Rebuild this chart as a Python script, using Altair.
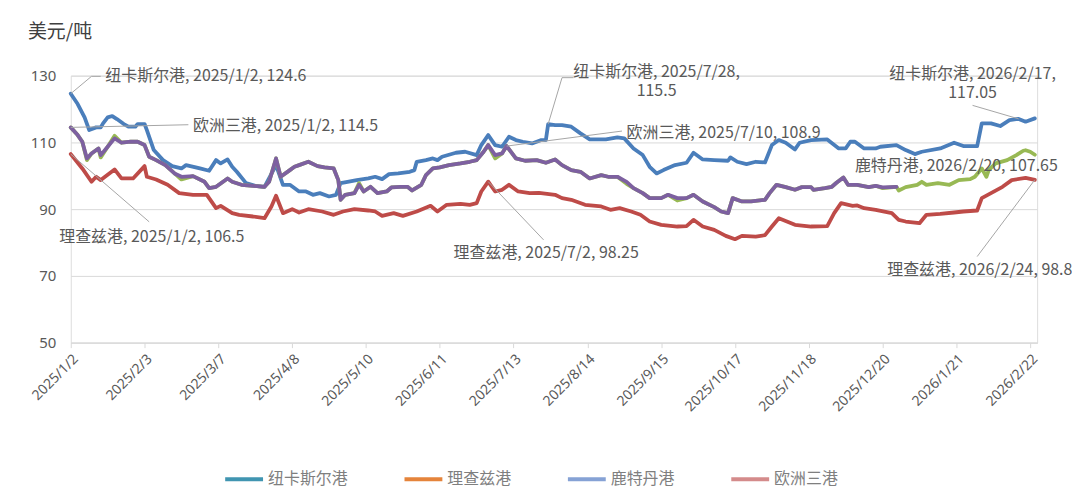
import altair as alt
import pandas as pd

# ---------------- data ----------------
SERIES_NAMES = ["纽卡斯尔港", "理查兹港", "鹿特丹港", "欧洲三港"]
LINE_COLORS = ["#4a7ebb", "#be4b48", "#98b954", "#7d60a0"]
LEGEND_COLORS = ["#4095b1", "#e5843b", "#86a2d5", "#d48b8b"]

NEWCASTLE_DATES = [
    "2025-01-02", "2025-01-05", "2025-01-08", "2025-01-10", "2025-01-13", "2025-01-15", "2025-01-16",
    "2025-01-18", "2025-01-20", "2025-01-22", "2025-01-25", "2025-01-27", "2025-01-30", "2025-01-31",
    "2025-02-03", "2025-02-04", "2025-02-07", "2025-02-11", "2025-02-15", "2025-02-19", "2025-02-21",
    "2025-02-27", "2025-03-03", "2025-03-06", "2025-03-08", "2025-03-11", "2025-03-13", "2025-03-15",
    "2025-03-19", "2025-03-23", "2025-03-27", "2025-04-01", "2025-04-04", "2025-04-07", "2025-04-11",
    "2025-04-14", "2025-04-17", "2025-04-20", "2025-04-24", "2025-04-27", "2025-04-29", "2025-05-02",
    "2025-05-06", "2025-05-11", "2025-05-14", "2025-05-17", "2025-05-20", "2025-05-24", "2025-05-29",
    "2025-05-31", "2025-06-01", "2025-06-05", "2025-06-08", "2025-06-10", "2025-06-12", "2025-06-18",
    "2025-06-22", "2025-06-27", "2025-06-29", "2025-07-02", "2025-07-05", "2025-07-08", "2025-07-11",
    "2025-07-14", "2025-07-17", "2025-07-21", "2025-07-25", "2025-07-27", "2025-07-28", "2025-07-31",
    "2025-08-03", "2025-08-07", "2025-08-11", "2025-08-15", "2025-08-22", "2025-08-27", "2025-08-30",
    "2025-09-03", "2025-09-07", "2025-09-10", "2025-09-13", "2025-09-16", "2025-09-21", "2025-09-26",
    "2025-09-29", "2025-10-03", "2025-10-08", "2025-10-14", "2025-10-15", "2025-10-18", "2025-10-22",
    "2025-10-26", "2025-10-30", "2025-11-02", "2025-11-05", "2025-11-08", "2025-11-12", "2025-11-14",
    "2025-11-19", "2025-11-26", "2025-12-01", "2025-12-04", "2025-12-06", "2025-12-08", "2025-12-12",
    "2025-12-17", "2025-12-19", "2025-12-26", "2025-12-30", "2026-01-03", "2026-01-06", "2026-01-14",
    "2026-01-20", "2026-01-24", "2026-01-30", "2026-02-01", "2026-02-05", "2026-02-09", "2026-02-13",
    "2026-02-17", "2026-02-20", "2026-02-24",
]
NEWCASTLE_VALUES = [
    124.6, 121.5, 117.5, 113.7, 114.5, 114.5, 115.7,
    117.5, 117.9, 117.0, 115.5, 114.7, 114.7, 115.5,
    115.5, 113.7, 107.7, 104.7, 102.9, 102.2, 103.2,
    102.2, 101.5, 104.7, 103.7, 104.9, 102.7, 101.2,
    97.8, 97.0, 96.7, 103.2, 97.3, 97.3, 95.3,
    95.3, 94.3, 94.8, 93.8, 94.3, 97.8, 98.2,
    98.7, 99.2, 99.7, 99.0, 100.5, 100.7, 101.2,
    101.7, 104.2, 104.7, 105.2, 104.7, 105.7, 106.9,
    107.2, 106.2, 109.2, 112.2, 109.2, 108.7, 111.7,
    110.7, 110.2, 109.7, 110.7, 110.7, 115.5, 115.2,
    115.2, 114.7, 112.7, 110.9, 110.9, 111.5, 111.2,
    108.2, 106.2, 102.7, 100.7, 101.7, 103.2, 103.9,
    106.9, 104.9, 104.7, 104.5, 105.5, 104.2, 103.5,
    104.2, 104.0, 109.2, 110.7, 109.9, 107.9, 109.9,
    110.7, 110.9, 108.2, 108.2, 110.2, 110.2, 108.2,
    108.2, 108.7, 109.2, 107.7, 106.5, 107.2, 108.2,
    109.9, 108.9, 108.9, 115.7, 115.7, 114.9, 116.7,
    117.05, 116.2, 117.2,
]

RICHARDS_DATES = [
    "2025-01-02", "2025-01-07", "2025-01-11", "2025-01-13", "2025-01-15", "2025-01-21", "2025-01-24",
    "2025-01-29", "2025-02-03", "2025-02-04", "2025-02-08", "2025-02-13", "2025-02-18", "2025-02-24",
    "2025-03-02", "2025-03-06", "2025-03-08", "2025-03-13", "2025-03-16", "2025-03-22", "2025-03-27",
    "2025-03-30", "2025-04-01", "2025-04-04", "2025-04-08", "2025-04-11", "2025-04-15", "2025-04-21",
    "2025-04-26", "2025-04-30", "2025-05-05", "2025-05-11", "2025-05-14", "2025-05-17", "2025-05-22",
    "2025-05-26", "2025-06-01", "2025-06-07", "2025-06-10", "2025-06-14", "2025-06-20", "2025-06-24",
    "2025-06-27", "2025-06-29", "2025-07-02", "2025-07-05", "2025-07-08", "2025-07-11", "2025-07-15",
    "2025-07-20", "2025-07-24", "2025-07-31", "2025-08-03", "2025-08-07", "2025-08-13", "2025-08-20",
    "2025-08-24", "2025-08-28", "2025-09-02", "2025-09-06", "2025-09-10", "2025-09-15", "2025-09-22",
    "2025-09-26", "2025-09-29", "2025-10-03", "2025-10-08", "2025-10-13", "2025-10-17", "2025-10-20",
    "2025-10-26", "2025-10-30", "2025-11-02", "2025-11-05", "2025-11-12", "2025-11-19", "2025-11-26",
    "2025-11-29", "2025-12-02", "2025-12-07", "2025-12-09", "2025-12-12", "2025-12-17", "2025-12-24",
    "2025-12-27", "2025-12-30", "2026-01-05", "2026-01-08", "2026-01-14", "2026-01-20", "2026-01-24",
    "2026-01-30", "2026-02-01", "2026-02-05", "2026-02-10", "2026-02-14", "2026-02-20", "2026-02-24",
]
RICHARDS_VALUES = [
    106.5, 102.2, 98.2, 99.7, 98.7, 101.9, 99.2,
    99.2, 102.9, 99.7, 98.9, 97.3, 94.8, 94.3,
    94.3, 90.3, 91.0, 88.8, 88.3, 87.8, 87.3,
    90.8, 94.0, 88.8, 90.0, 89.0, 90.0, 89.3,
    88.3, 89.3, 90.0, 89.6, 89.3, 88.0, 88.8,
    88.0, 89.3, 91.0, 89.3, 91.3, 91.6, 91.3,
    91.8, 95.3, 98.25, 95.3, 95.8, 97.3, 95.3,
    94.8, 94.9, 94.3, 93.3, 92.8, 91.3, 90.8,
    89.8, 90.3, 89.3, 88.3, 86.3, 85.3, 84.8,
    84.9, 86.8, 84.8, 83.8, 82.0, 81.0, 82.0,
    81.8, 82.2, 84.8, 87.3, 85.3, 84.8, 84.9,
    88.8, 91.8, 91.0, 91.1, 90.3, 89.8, 88.8,
    86.8, 86.3, 85.8, 88.3, 88.6, 89.0, 89.3,
    89.6, 93.3, 94.8, 96.7, 98.7, 99.4, 98.8,
]

ROTTERDAM_DATES = [
    "2025-01-02", "2025-01-05", "2025-01-07", "2025-01-09", "2025-01-11", "2025-01-14", "2025-01-15",
    "2025-01-18", "2025-01-21", "2025-01-24", "2025-01-28", "2025-01-31", "2025-02-03", "2025-02-05",
    "2025-02-08", "2025-02-12", "2025-02-16", "2025-02-19", "2025-02-24", "2025-03-01", "2025-03-03",
    "2025-03-06", "2025-03-11", "2025-03-13", "2025-03-17", "2025-03-22", "2025-03-27", "2025-03-29",
    "2025-04-01", "2025-04-03", "2025-04-07", "2025-04-09", "2025-04-11", "2025-04-15", "2025-04-19",
    "2025-04-22", "2025-04-26", "2025-04-28", "2025-04-29", "2025-05-01", "2025-05-05", "2025-05-07",
    "2025-05-09", "2025-05-12", "2025-05-15", "2025-05-19", "2025-05-21", "2025-05-25", "2025-05-28",
    "2025-05-30", "2025-06-03", "2025-06-05", "2025-06-08", "2025-06-11", "2025-06-15", "2025-06-20",
    "2025-06-24", "2025-06-27", "2025-06-30", "2025-07-02", "2025-07-05", "2025-07-08", "2025-07-10",
    "2025-07-14", "2025-07-18", "2025-07-23", "2025-07-27", "2025-07-31", "2025-08-03", "2025-08-07",
    "2025-08-11", "2025-08-15", "2025-08-20", "2025-08-23", "2025-08-27", "2025-08-31", "2025-09-03",
    "2025-09-07", "2025-09-10", "2025-09-15", "2025-09-18", "2025-09-22", "2025-09-26", "2025-09-29",
    "2025-10-03", "2025-10-08", "2025-10-11", "2025-10-14", "2025-10-16", "2025-10-20", "2025-10-24",
    "2025-10-30", "2025-11-01", "2025-11-04", "2025-11-08", "2025-11-12", "2025-11-15", "2025-11-19",
    "2025-11-20", "2025-11-25", "2025-11-28", "2025-11-30", "2025-12-03", "2025-12-05", "2025-12-09",
    "2025-12-14", "2025-12-17", "2025-12-20", "2025-12-26", "2025-12-27", "2025-12-30", "2026-01-04",
    "2026-01-06", "2026-01-08", "2026-01-13", "2026-01-18", "2026-01-22", "2026-01-27", "2026-01-29",
    "2026-02-01", "2026-02-03", "2026-02-04", "2026-02-07", "2026-02-12", "2026-02-16", "2026-02-19",
    "2026-02-20", "2026-02-22", "2026-02-24",
]
ROTTERDAM_VALUES = [
    114.5, 112.2, 110.2, 104.7, 106.7, 108.2, 105.5,
    108.7, 112.0, 109.9, 110.2, 110.2, 109.2, 105.7,
    104.7, 103.2, 100.7, 98.9, 99.9, 98.2, 96.3,
    96.7, 99.2, 98.2, 97.3, 97.0, 96.7, 98.2,
    105.2, 99.7, 101.7, 102.7, 103.2, 104.2, 102.9,
    102.5, 102.2, 98.7, 92.8, 94.3, 94.8, 97.8,
    95.3, 96.7, 94.8, 95.3, 96.5, 96.7, 96.7,
    95.6, 97.3, 100.2, 102.2, 102.5, 103.2, 103.7,
    104.2, 104.7, 107.2, 109.2, 105.2, 106.7, 108.9,
    105.2, 104.5, 104.7, 103.9, 104.9, 103.2, 101.7,
    101.2, 99.2, 100.2, 99.7, 99.7, 97.6, 96.3,
    94.8, 93.3, 93.3, 94.3, 92.6, 93.3, 94.3,
    92.3, 90.6, 89.3, 88.8, 93.3, 92.3, 92.3,
    92.8, 94.8, 97.3, 96.6, 95.8, 96.6, 96.6,
    95.8, 96.3, 96.7, 97.9, 99.5, 97.3, 97.3,
    96.6, 97.0, 96.3, 96.7, 95.6, 96.6, 97.3,
    98.2, 97.3, 97.8, 97.3, 98.7, 99.0, 99.7,
    102.2, 99.7, 101.7, 103.7, 104.7, 106.2, 107.5,
    107.65, 107.2, 106.3,
]

EUROPE3_DATES = [
    "2025-01-02", "2025-01-05", "2025-01-07", "2025-01-09", "2025-01-11", "2025-01-14", "2025-01-15",
    "2025-01-18", "2025-01-21", "2025-01-24", "2025-01-28", "2025-01-31", "2025-02-03", "2025-02-05",
    "2025-02-08", "2025-02-12", "2025-02-16", "2025-02-19", "2025-02-24", "2025-03-01", "2025-03-03",
    "2025-03-06", "2025-03-11", "2025-03-13", "2025-03-17", "2025-03-22", "2025-03-27", "2025-03-29",
    "2025-04-01", "2025-04-03", "2025-04-07", "2025-04-09", "2025-04-11", "2025-04-15", "2025-04-19",
    "2025-04-22", "2025-04-26", "2025-04-28", "2025-04-29", "2025-05-01", "2025-05-05", "2025-05-07",
    "2025-05-09", "2025-05-12", "2025-05-15", "2025-05-19", "2025-05-21", "2025-05-25", "2025-05-28",
    "2025-05-30", "2025-06-03", "2025-06-05", "2025-06-08", "2025-06-11", "2025-06-15", "2025-06-20",
    "2025-06-24", "2025-06-27", "2025-06-30", "2025-07-02", "2025-07-05", "2025-07-08", "2025-07-10",
    "2025-07-14", "2025-07-18", "2025-07-23", "2025-07-27", "2025-07-31", "2025-08-03", "2025-08-07",
    "2025-08-11", "2025-08-15", "2025-08-20", "2025-08-23", "2025-08-27", "2025-08-31", "2025-09-03",
    "2025-09-07", "2025-09-10", "2025-09-15", "2025-09-18", "2025-09-22", "2025-09-26", "2025-09-29",
    "2025-10-03", "2025-10-08", "2025-10-11", "2025-10-14", "2025-10-16", "2025-10-20", "2025-10-24",
    "2025-10-30", "2025-11-01", "2025-11-04", "2025-11-08", "2025-11-12", "2025-11-15", "2025-11-19",
    "2025-11-20", "2025-11-25", "2025-11-28", "2025-11-30", "2025-12-03", "2025-12-05", "2025-12-09",
    "2025-12-14", "2025-12-17", "2025-12-20", "2025-12-26",
]
EUROPE3_VALUES = [
    114.5, 112.2, 110.2, 105.2, 106.7, 108.2, 106.2,
    108.7, 111.2, 109.9, 110.2, 110.2, 109.2, 105.7,
    104.7, 103.2, 100.7, 99.7, 99.9, 98.2, 96.3,
    96.7, 99.2, 98.2, 97.3, 97.0, 96.7, 98.2,
    105.2, 99.7, 101.7, 102.7, 103.2, 104.2, 102.9,
    102.5, 102.2, 98.7, 92.8, 94.3, 94.8, 97.3,
    95.3, 96.7, 94.8, 95.3, 96.5, 96.7, 96.7,
    95.6, 97.3, 100.2, 102.2, 102.5, 103.2, 103.7,
    104.2, 104.7, 107.2, 109.2, 106.2, 106.7, 108.9,
    105.2, 104.5, 104.7, 103.9, 104.9, 103.2, 101.7,
    101.2, 99.2, 100.2, 99.7, 99.7, 98.2, 96.3,
    94.8, 93.3, 93.3, 94.3, 93.3, 93.3, 94.3,
    92.3, 90.6, 89.3, 88.8, 93.3, 92.3, 92.3,
    92.8, 94.8, 97.3, 96.6, 95.8, 96.6, 96.6,
    95.8, 96.3, 96.7, 97.9, 99.5, 97.3, 97.3,
    96.6, 97.0, 96.5, 96.7,
]

X_TICKS = ["2025-01-02", "2025-02-03", "2025-03-07", "2025-04-08", "2025-05-10", "2025-06-11",
           "2025-07-13", "2025-08-14", "2025-09-15", "2025-10-17", "2025-11-18", "2025-12-20",
           "2026-01-21", "2026-02-22"]
X_DOMAIN = ["2025-01-02", "2026-02-25"]
Y_TICKS = [50, 70, 90, 110, 130]
Y_TITLE = "美元/吨"

# data labels: text, anchor point
ANN_TEXT = ["纽卡斯尔港, 2025/1/2, 124.6", "欧洲三港, 2025/1/2, 114.5", "理查兹港, 2025/1/2, 106.5",
            "纽卡斯尔港, 2025/7/28,\n115.5", "欧洲三港, 2025/7/10, 108.9", "理查兹港, 2025/7/2, 98.25",
            "纽卡斯尔港, 2026/2/17,\n117.05", "鹿特丹港, 2026/2/20, 107.65", "理查兹港, 2026/2/24, 98.8"]
ANN_DATE = ["2025-01-02", "2025-01-02", "2025-01-02", "2025-07-28", "2025-07-10", "2025-07-02",
            "2026-02-17", "2026-02-20", "2026-02-24"]
ANN_VALUE = [124.6, 114.5, 106.5, 115.5, 108.9, 98.25, 117.05, 107.65, 98.8]

# ---------------- label placement (layout, in data space) ----------------
LABEL_DATE = ["2025-01-17", "2025-02-24", "2024-12-28", "2025-09-13", "2025-08-31", "2025-06-17",
              "2026-01-28", "2025-12-08", "2025-12-22"]
LABEL_VALUE = [129.9, 114.9, 81.7, 131.1, 112.7, 76.9, 130.6, 102.9, 71.9]
LABEL_ALIGN = ["left", "left", "left", "center", "left", "left", "center", "left", "left"]
# leader line bends / ends (first point = anchor)
LEADER_POINTS = [
    [("2025-01-11", 129.8), ("2025-01-15", 129.8)],
    [("2025-02-22", 115.3)],
    [("2025-02-05", 86.2)],
    [("2025-08-03", 129.4), ("2025-08-08", 129.4)],
    [("2025-08-29", 113.4)],
    [("2025-07-26", 80.8)],
    [("2026-01-28", 121.1)],
    [],
    [("2026-01-30", 75.8)],
]

# ---------------- build tables ----------------
series_data = {
    "纽卡斯尔港": (NEWCASTLE_DATES, NEWCASTLE_VALUES),
    "理查兹港": (RICHARDS_DATES, RICHARDS_VALUES),
    "鹿特丹港": (ROTTERDAM_DATES, ROTTERDAM_VALUES),
    "欧洲三港": (EUROPE3_DATES, EUROPE3_VALUES),
}


def dt(s):
    t = pd.Timestamp(s)
    return alt.DateTime(year=t.year, month=t.month, date=t.day)


FONT = "Noto Sans CJK SC"
GRID = "#d9d9d9"
TXT = "#595959"

x_enc = alt.X("date:T",
              scale=alt.Scale(domain=[dt(X_DOMAIN[0]), dt(X_DOMAIN[1])]),
              axis=alt.Axis(values=[dt(v) for v in X_TICKS], format="%Y/%-m/%-d", labelAngle=-45,
                            labelFontSize=14, labelColor=TXT, labelFont="Noto Sans", grid=False,
                            domainColor=GRID, tickColor=GRID, tickSize=5, labelPadding=4,
                            title=None, labelOverlap=False, labelFlush=False))
y_enc = alt.Y("value:Q",
              scale=alt.Scale(domain=[50, 130], nice=False, zero=False),
              axis=alt.Axis(values=Y_TICKS, labelFontSize=15, labelColor=TXT, labelFont="Noto Sans",
                            grid=True, gridColor=GRID, domain=False, ticks=False, labelPadding=15,
                            title=None))

layers = []
for name, color in zip(SERIES_NAMES, LINE_COLORS):
    d, v = series_data[name]
    df = pd.DataFrame({"date": pd.to_datetime(d), "value": v})
    layers.append(alt.Chart(df).mark_line(color=color, strokeWidth=3.8, strokeJoin="round",
                                          strokeCap="round").encode(x=x_enc, y=y_enc))

# legend layer (no visible line, only drives the legend)
leg_df = pd.DataFrame({"series": SERIES_NAMES, "date": pd.to_datetime([X_DOMAIN[0]] * 4),
                       "value": [None] * 4})
layers.append(alt.Chart(leg_df).mark_line(strokeWidth=4).encode(
    x=x_enc, y=y_enc,
    color=alt.Color("series:N", scale=alt.Scale(domain=SERIES_NAMES, range=LEGEND_COLORS),
                    legend=alt.Legend(orient="none", legendX=153, legendY=384, direction="horizontal",
                                      columns=4, title=None, symbolType="stroke", symbolSize=1444,
                                      symbolStrokeWidth=4, labelFontSize=16, labelFont=FONT,
                                      labelColor="#7f7f7f", columnPadding=48, labelOffset=3,
                                      padding=0))))

# leader lines
rows = []
for i, pts in enumerate(LEADER_POINTS):
    if not pts:
        continue
    allp = [(ANN_DATE[i], ANN_VALUE[i])] + pts
    if i in (6, 8):
        allp = pts + [(ANN_DATE[i], ANN_VALUE[i])]
    for k, (d, v) in enumerate(allp):
        rows.append({"id": i, "k": k, "date": pd.Timestamp(d), "value": v})
lead_df = pd.DataFrame(rows)
layers.append(alt.Chart(lead_df).mark_line(color="#a6a6a6", strokeWidth=1).encode(
    x=x_enc, y=y_enc, detail="id:N", order="k:Q"))

# label texts
lab_df = pd.DataFrame({"text": ANN_TEXT, "date": pd.to_datetime(LABEL_DATE), "value": LABEL_VALUE,
                       "align": LABEL_ALIGN})
for al in ("left", "center"):
    layers.append(alt.Chart(lab_df).transform_filter(alt.datum.align == al).mark_text(
        align=al, baseline="middle", fontSize=16, font=FONT, color=TXT, lineBreak="\n",
        lineHeight=19.5).encode(x=x_enc, y=y_enc, text="text:N"))

# axis unit title
layers.append(alt.Chart(pd.DataFrame({"t": [Y_TITLE]})).mark_text(
    align="left", baseline="middle", fontSize=19, font=FONT, color="#404040").encode(
    x=alt.value(-43), y=alt.value(-44), text="t:N"))

chart = alt.layer(*layers).properties(
    width=970, height=268,
    autosize=alt.AutoSizeParams(type="none"),
    padding={"left": 63, "top": 67, "right": 35, "bottom": 151},
).configure_view(stroke=None).configure(background="white")

chart.save("out.html", embed_options={"renderer": "svg", "actions": False})
